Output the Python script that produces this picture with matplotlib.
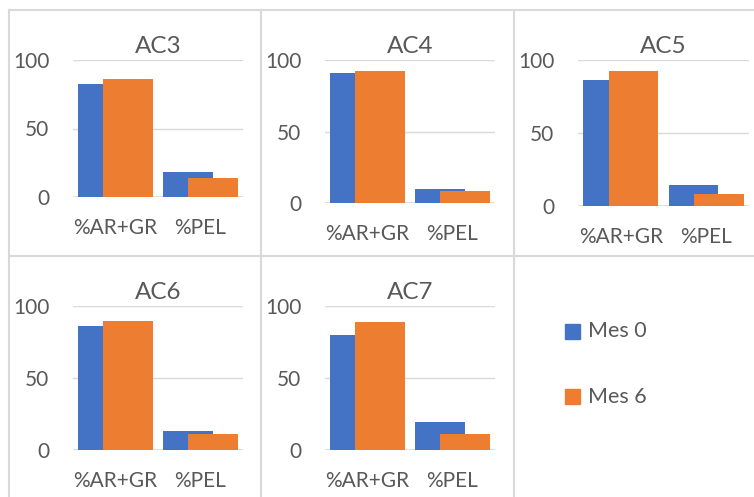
import matplotlib.pyplot as plt
from matplotlib.lines import Line2D
import numpy as np

plt.rcParams['font.family'] = ['Lato', 'DejaVu Sans']

categories = ['%AR+GR', '%PEL']
panels = ['AC3', 'AC4', 'AC5', 'AC6', 'AC7']
mes0 = {
    'AC3': [82.5, 18.0],
    'AC4': [91.0, 9.8],
    'AC5': [86.0, 14.7],
    'AC6': [86.1, 13.2],
    'AC7': [79.8, 19.2],
}
mes6 = {
    'AC3': [85.9, 13.6],
    'AC4': [92.1, 8.6],
    'AC5': [92.2, 8.2],
    'AC6': [89.6, 10.9],
    'AC7': [88.6, 10.9],
}
series_names = ['Mes 0', 'Mes 6']
yticks = [0, 50, 100]

BLUE = '#4472C4'
ORANGE = '#ED7D31'
TEXT = '#595959'
GRID = '#d9d9d9'

W, H = 754, 497
fig = plt.figure(figsize=(W / 100, H / 100), dpi=100)

# plot-area boxes in pixels: left, right, y of 0, y of 100
boxes = {
    'AC3': (73, 243, 197, 60),
    'AC4': (325, 495, 203, 60),
    'AC5': (578, 749, 206, 60),
    'AC6': (73, 243, 450, 306),
    'AC7': (325, 495, 450, 306),
}

def px_axes(l, r, y0, y100):
    return fig.add_axes([l / W, 1 - y0 / H, (r - l) / W, (y0 - y100) / H])

x = np.arange(len(categories))
bw = 0.58
off = 0.147

for name in panels:
    l, r, y0, y100 = boxes[name]
    ax = px_axes(l, r, y0, y100)
    ax.bar(x - off, mes0[name], bw, color=BLUE, zorder=2)
    ax.bar(x + off, mes6[name], bw, color=ORANGE, zorder=3)
    ax.set_xlim(-0.5, 1.5)
    ax.set_ylim(0, 100)
    ax.set_yticks(yticks)
    ax.set_xticks(x)
    ax.set_xticklabels(categories)
    for s in ax.spines.values():
        s.set_visible(False)
    ax.grid(axis='y', color=GRID, lw=1, zorder=0)
    ax.axhline(0, color=GRID, lw=1.2, zorder=1)
    ax.tick_params(length=0, colors=TEXT, labelsize=15)
    ax.tick_params(axis='x', pad=15)
    ax.tick_params(axis='y', pad=17)
    ax.set_title(name, color=TEXT, fontsize=17.5, pad=5)

# legend panel
fig.patches.append(plt.Rectangle((565 / W, 1 - 339 / H), 15 / W, 15 / H,
                                 transform=fig.transFigure, color=BLUE))
fig.patches.append(plt.Rectangle((565 / W, 1 - 404 / H), 15 / W, 15 / H,
                                 transform=fig.transFigure, color=ORANGE))
fig.text(588 / W, 1 - 331 / H, series_names[0], color=TEXT, fontsize=15.5, va='center')
fig.text(588 / W, 1 - 397 / H, series_names[1], color=TEXT, fontsize=15.5, va='center')

# panel borders
lw = 1.5
for xv in (9, 261, 514):
    fig.add_artist(Line2D([xv / W, xv / W], [1 - 10 / H, 0], color=GRID, lw=lw))
for yv in (10, 256):
    fig.add_artist(Line2D([9 / W, 1], [1 - yv / H, 1 - yv / H], color=GRID, lw=lw))

fig.savefig('out.png', dpi=100, facecolor='white')
